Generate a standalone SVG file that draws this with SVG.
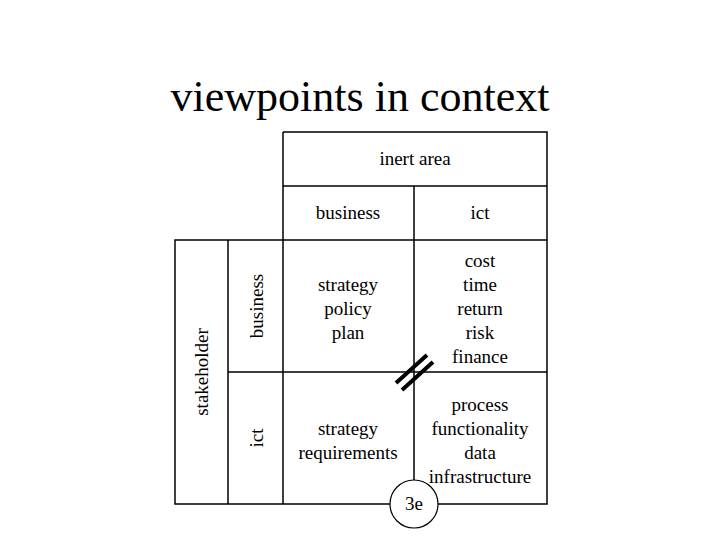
<svg xmlns="http://www.w3.org/2000/svg" width="720" height="540" viewBox="0 0 720 540">
<style>
text{font-family:"Liberation Serif","DejaVu Serif",serif;fill:#000;text-anchor:middle}
.t{font-size:19px}
.c{fill:none;stroke:#000;stroke-width:1.5}
</style>
<rect width="720" height="540" fill="#fff"/>
<text x="360" y="111" style="font-size:44px">viewpoints in context</text>
<g id="connectors">
<path class="c" d="M283,132H547V504H175V240H547M283,132V504M228,240V504M414,186V504M283,186H547M228,372H547"/>
<path stroke="#000" stroke-width="4" d="M396,383L427,355M402,390L433,362"/>
</g>
<g id="inert"><text x="415" y="165" class="t">inert area</text></g>
<g id="colbiz"><text x="348" y="219" class="t">business</text></g>
<g id="colict"><text x="480" y="219" class="t">ict</text></g>
<g id="stake"><text class="t" transform="translate(208,372) rotate(-90)">stakeholder</text></g>
<g id="rowbiz"><text class="t" transform="translate(263,306) rotate(-90)">business</text></g>
<g id="rowict"><text class="t" transform="translate(263,438) rotate(-90)">ict</text></g>
<g id="bb"><text x="348" y="291" class="t">strategy</text><text x="348" y="315" class="t">policy</text><text x="348" y="339" class="t">plan</text></g>
<g id="bi"><text x="480" y="267" class="t">cost</text><text x="480" y="291" class="t">time</text><text x="480" y="315" class="t">return</text><text x="480" y="339" class="t">risk</text><text x="480" y="363" class="t">finance</text></g>
<g id="ib"><text x="348" y="435" class="t">strategy</text><text x="348" y="459" class="t">requirements</text></g>
<g id="ii"><text x="480" y="411" class="t">process</text><text x="480" y="435" class="t">functionality</text><text x="480" y="459" class="t">data</text><text x="480" y="483" class="t">infrastructure</text></g>
<g id="n3e"><circle cx="414" cy="504" r="24" fill="#fff" stroke="#000" stroke-width="1.2"/><text x="414" y="510" class="t">3e</text></g>
</svg>
